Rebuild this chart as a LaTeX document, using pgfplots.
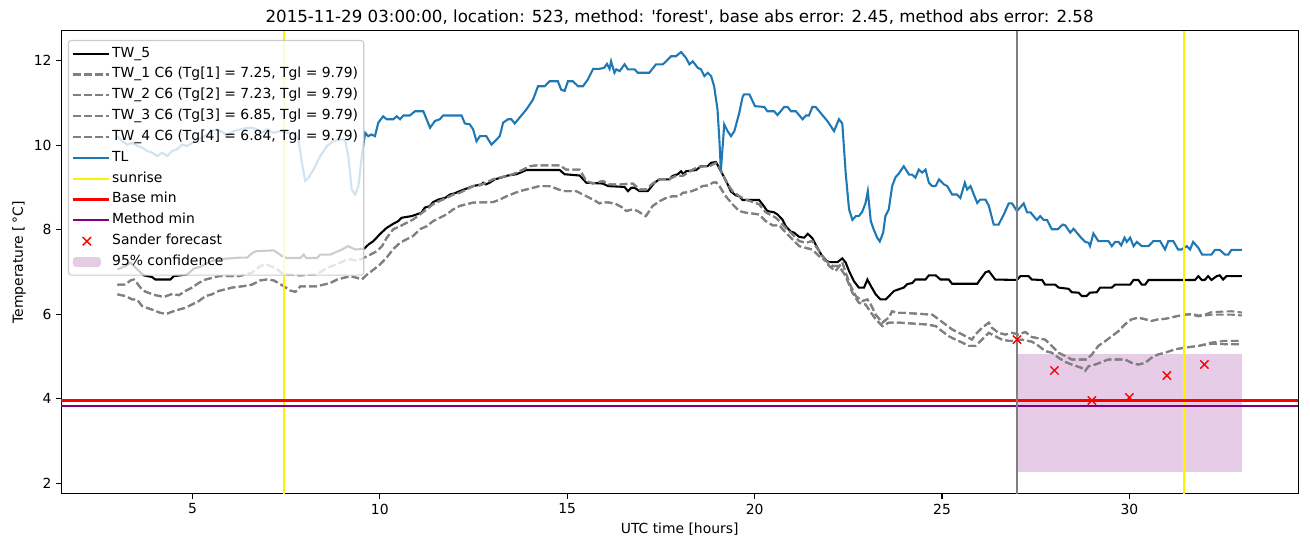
\documentclass[border=0pt]{standalone}
\usepackage{pgfplots}
\pgfplotsset{compat=1.18}
\usepackage{fontspec}
\setmainfont{DejaVu Sans}
\definecolor{tlblue}{HTML}{1F77B4}
\definecolor{mplgray}{HTML}{808080}
\definecolor{mplpurple}{HTML}{800080}
\definecolor{legendedge}{HTML}{CCCCCC}
\pgfplotsset{
  confleg/.style={legend image code/.code={\fill[mplpurple, fill opacity=0.2] (0pt,-3.5pt) rectangle (20pt,3.5pt); \path (0pt,0pt) -- (26pt,0pt);}},
  markleg/.style={legend image code/.code={\path (0pt,0pt) -- (26pt,0pt); \draw[red, line width=1pt] (10pt,0pt) +(-3pt,-3pt) -- +(3pt,3pt) +(-3pt,3pt) -- +(3pt,-3pt);}},
}
\begin{document}
\begin{tikzpicture}
\begin{axis}[
  at={(44.1pt,38.2pt)}, anchor=south west,
  scale only axis, width=890.5pt, height=333.4pt,
  xmin=1.5, xmax=34.5, ymin=1.75, ymax=12.70,
  xtick={5,10,15,20,25,30}, ytick={2,4,6,8,10,12},
  tick align=outside, xtick pos=bottom, ytick pos=left,
  major tick length=3.5pt,
  tick style={black, line width=0.8pt},
  axis line style={line width=0.8pt},
  tick label style={font=\fontsize{10}{12}\selectfont},
  /pgf/number format/assume math mode=true,
  label style={font=\fontsize{10}{12}\selectfont},
  title style={font=\fontsize{12}{14}\selectfont, at={(axis description cs:0.5,1)}, anchor=base},
  title={2015-11-29 03:00:00, location: 523, method: \textquotesingle forest\textquotesingle, base abs error: 2.45, method abs error: 2.58},
  xlabel={UTC time [hours]},
  ylabel={Temperature [\,°C]},
  xlabel style={at={(axis description cs:0.5,0)}, anchor=base, yshift=-28.5pt},
  ylabel style={at={(axis description cs:-0.0285,0.5)}, anchor=south, inner sep=0pt},
  legend cell align=left,
  legend style={at={(0,1)}, anchor=north west, xshift=4.8pt, yshift=-6.5pt,
    fill=white, fill opacity=0.8, draw opacity=1, text opacity=1,
    draw=legendedge, line width=0.8pt, rounded corners=2pt,
    font=\fontsize{10}{12}\selectfont, inner xsep=2.5pt, inner ysep=2pt, row sep=0pt,
    nodes={inner sep=1.5pt, text height=8.5pt, text depth=3.5pt}},
  legend image code/.code={\draw[#1] (0pt,0pt) -- (20pt,0pt); \path (0pt,0pt) -- (26pt,0pt);},
  every axis plot/.append style={line width=1.5pt},
]
% confidence (drawn below the lines, legend entry added last)
\addplot[forget plot, draw=none, fill=mplpurple, fill opacity=0.2] coordinates {(27,2.26) (33,2.26) (33,5.06) (27,5.06)} -- cycle;

% TW_5
\addplot[black] coordinates {
(3.00,7.06) (3.22,7.14) (3.35,7.22) (3.53,7.06) (3.70,6.92) (3.92,6.88) (4.01,6.82) (4.41,6.82) (4.50,6.90) (4.86,6.94)
(5.04,7.08) (5.21,7.12) (5.40,7.22) (5.66,7.30) (6.30,7.34) (6.46,7.34) (6.60,7.45) (6.70,7.49) (7.17,7.51) (7.40,7.37)
(7.52,7.33) (7.88,7.33) (7.97,7.41) (8.03,7.33) (8.32,7.33) (8.41,7.41) (8.68,7.41) (8.99,7.53) (9.15,7.61) (9.35,7.53)
(9.58,7.55) (9.70,7.65) (9.83,7.73) (10.01,7.90) (10.18,8.04) (10.36,8.14) (10.49,8.20) (10.58,8.28) (10.71,8.30) (10.85,8.32)
(10.98,8.36) (11.11,8.40) (11.20,8.52) (11.34,8.56) (11.42,8.65) (11.56,8.71) (11.74,8.75) (11.87,8.83) (12.00,8.86) (12.13,8.91)
(12.31,8.97) (12.49,9.03) (12.71,9.07) (12.76,9.11) (12.83,9.07) (12.93,9.11) (13.07,9.19) (13.24,9.23) (13.42,9.28) (13.64,9.31)
(13.73,9.34) (13.91,9.41) (14.80,9.41) (14.93,9.31) (15.33,9.28) (15.51,9.11) (15.95,9.09) (16.09,9.03) (16.53,9.01) (16.62,8.91)
(16.71,8.99) (16.80,8.99) (16.93,8.91) (17.15,8.91) (17.33,9.11) (17.46,9.19) (17.73,9.19) (17.81,9.27) (17.95,9.31) (18.04,9.38)
(18.10,9.31) (18.17,9.38) (18.44,9.41) (18.57,9.50) (18.75,9.50) (18.84,9.58) (18.97,9.60) (19.06,9.45) (19.15,9.30) (19.24,9.15)
(19.37,8.90) (19.50,8.81) (19.59,8.79) (19.68,8.70) (20.12,8.70) (20.21,8.60) (20.34,8.44) (20.52,8.41) (20.61,8.36) (20.74,8.24)
(20.83,8.08) (20.97,7.95) (21.05,7.93) (21.19,7.83) (21.32,7.81) (21.42,7.90) (21.54,7.80) (21.65,7.61) (21.78,7.41) (21.92,7.26)
(22.00,7.23) (22.21,7.23) (22.34,7.32) (22.43,7.22) (22.52,7.02) (22.65,6.78) (22.78,6.63) (22.92,6.63) (23.01,6.82) (23.10,6.67)
(23.23,6.47) (23.36,6.35) (23.50,6.35) (23.63,6.47) (23.72,6.55) (23.85,6.59) (23.98,6.63) (24.07,6.71) (24.21,6.74) (24.29,6.82)
(24.56,6.82) (24.65,6.92) (24.83,6.92) (24.96,6.82) (25.18,6.82) (25.27,6.72) (25.94,6.72) (26.02,6.82) (26.16,6.99) (26.25,7.02)
(26.42,6.82) (27.00,6.81) (27.09,6.90) (27.31,6.90) (27.40,6.82) (27.67,6.81) (27.75,6.70) (28.02,6.70) (28.11,6.63) (28.38,6.60)
(28.46,6.52) (28.64,6.51) (28.73,6.43) (28.86,6.43) (28.95,6.51) (29.13,6.52) (29.22,6.63) (29.53,6.63) (29.62,6.70) (30.02,6.70)
(30.11,6.81) (30.24,6.81) (30.33,6.70) (30.42,6.70) (30.51,6.81) (31.75,6.81) (31.84,6.90) (31.93,6.81) (32.01,6.81) (32.10,6.90)
(32.19,6.81) (32.33,6.90) (32.41,6.92) (32.50,6.82) (32.59,6.90) (33.00,6.90)
};
\addlegendentry{TW\_5}

% TW_1 and TW_2 (upper pair)
\addplot[mplgray, dash pattern=on 5.55pt off 2.4pt] coordinates {
(3.00,6.70) (3.21,6.70) (3.35,6.80) (3.44,6.82) (3.52,6.74) (3.61,6.63) (3.75,6.53) (4.01,6.45) (4.24,6.41) (4.46,6.48)
(4.64,6.45) (4.81,6.55) (4.99,6.63) (5.17,6.74) (5.35,6.82) (5.70,6.90) (6.24,6.90) (6.59,6.98) (6.81,7.14) (6.95,7.18)
(7.08,7.14) (7.26,7.06) (7.44,6.94) (7.88,6.92) (8.32,6.94) (8.59,7.10) (8.86,7.18) (9.04,7.26) (9.21,7.30) (9.39,7.26)
(9.61,7.35) (9.75,7.41) (9.92,7.49) (10.06,7.61) (10.18,7.80) (10.36,8.01) (10.54,8.08) (10.71,8.16) (10.89,8.24) (11.07,8.36)
(11.25,8.48) (11.42,8.60) (11.60,8.68) (11.78,8.75) (11.96,8.83) (12.13,8.87) (12.31,8.95) (12.49,9.03) (12.67,9.05) (12.84,9.11)
(13.02,9.19) (13.20,9.23) (13.38,9.27) (13.55,9.31) (13.73,9.38) (13.91,9.46) (14.00,9.50) (14.18,9.52) (14.80,9.52) (14.97,9.42)
(15.33,9.42) (15.51,9.15) (15.69,9.09) (15.95,9.15) (16.13,9.07) (16.40,9.07) (16.75,9.09) (16.93,8.95) (17.10,8.95) (17.28,9.09)
(17.46,9.19) (17.73,9.20) (17.90,9.27) (18.08,9.27) (18.35,9.42) (18.52,9.49) (18.79,9.50) (18.97,9.58) (19.06,9.48) (19.23,9.15)
(19.41,8.91) (19.59,8.79) (19.77,8.71) (20.12,8.60) (20.30,8.41) (20.57,8.28) (20.83,8.04) (21.01,7.89) (21.19,7.73) (21.36,7.69)
(21.54,7.73) (21.63,7.61) (21.81,7.37) (21.99,7.14) (22.16,7.02) (22.34,7.23) (22.43,6.98) (22.56,6.67) (22.70,6.43) (22.87,6.31)
(23.01,6.35) (23.10,6.23) (23.23,5.99) (23.41,5.80) (23.58,5.92) (23.67,6.07) (23.81,6.03) (24.03,6.03) (24.74,5.99) (24.91,5.88)
(25.09,5.76) (25.27,5.64) (25.45,5.56) (25.63,5.48) (25.80,5.40) (25.89,5.52) (26.07,5.68) (26.25,5.80) (26.33,5.68) (26.51,5.56)
(26.69,5.52) (26.87,5.56) (27.04,5.52) (27.22,5.58) (27.40,5.46) (27.75,5.40) (27.93,5.25) (28.11,5.09) (28.29,5.01) (28.46,4.93)
(28.86,4.93) (29.00,5.05) (29.17,5.25) (29.35,5.36) (29.53,5.48) (29.71,5.60) (29.88,5.76) (30.06,5.88) (30.24,5.92) (30.42,5.88)
(30.59,5.84) (30.77,5.88) (30.95,5.89) (31.30,5.96) (31.48,5.99) (31.66,6.01) (31.84,5.97) (32.01,5.99) (32.19,6.05) (32.72,6.07)
(33.00,6.04)
};
\addlegendentry{TW\_1 C6 (Tg[1] = 7.25, Tgl = 9.79)}
\addplot[mplgray, dash pattern=on 5.55pt off 2.4pt] coordinates {
(3.00,6.70) (3.21,6.70) (3.35,6.80) (3.44,6.82) (3.52,6.74) (3.61,6.63) (3.75,6.53) (4.01,6.45) (4.24,6.41) (4.46,6.48)
(4.64,6.45) (4.81,6.55) (4.99,6.63) (5.17,6.74) (5.35,6.82) (5.70,6.90) (6.24,6.90) (6.59,6.98) (6.81,7.14) (6.95,7.18)
(7.08,7.14) (7.26,7.06) (7.44,6.94) (7.88,6.92) (8.32,6.94) (8.59,7.10) (8.86,7.18) (9.04,7.26) (9.21,7.30) (9.39,7.26)
(9.61,7.35) (9.75,7.41) (9.92,7.49) (10.06,7.61) (10.18,7.80) (10.36,8.01) (10.54,8.08) (10.71,8.16) (10.89,8.24) (11.07,8.36)
(11.25,8.48) (11.42,8.60) (11.60,8.68) (11.78,8.75) (11.96,8.83) (12.13,8.87) (12.31,8.95) (12.49,9.03) (12.67,9.05) (12.84,9.11)
(13.02,9.19) (13.20,9.23) (13.38,9.27) (13.55,9.31) (13.73,9.38) (13.91,9.46) (14.00,9.50) (14.18,9.52) (14.80,9.52) (14.97,9.42)
(15.33,9.42) (15.51,9.15) (15.69,9.09) (15.95,9.15) (16.13,9.07) (16.40,9.07) (16.75,9.09) (16.93,8.95) (17.10,8.95) (17.28,9.09)
(17.46,9.19) (17.73,9.20) (17.90,9.27) (18.08,9.27) (18.35,9.42) (18.52,9.49) (18.79,9.50) (18.97,9.58) (19.06,9.48) (19.23,9.15)
(19.41,8.91) (19.59,8.79) (19.77,8.71) (20.12,8.60) (20.30,8.41) (20.57,8.28) (20.83,8.04) (21.01,7.89) (21.19,7.73) (21.36,7.69)
(21.54,7.73) (21.63,7.61) (21.81,7.37) (21.99,7.14) (22.16,7.02) (22.34,7.23) (22.43,6.98) (22.56,6.67) (22.70,6.43) (22.87,6.31)
(23.01,6.35) (23.10,6.23) (23.23,5.99) (23.41,5.80) (23.58,5.92) (23.67,6.07) (23.81,6.03) (24.03,6.03) (24.74,5.99) (24.91,5.88)
(25.09,5.76) (25.27,5.64) (25.45,5.56) (25.63,5.48) (25.80,5.40) (25.89,5.52) (26.07,5.68) (26.25,5.80) (26.33,5.68) (26.51,5.56)
(26.69,5.52) (26.87,5.56) (27.04,5.52) (27.22,5.58) (27.40,5.46) (27.75,5.40) (27.93,5.25) (28.11,5.09) (28.29,5.01) (28.46,4.93)
(28.86,4.93) (29.00,5.05) (29.17,5.25) (29.35,5.36) (29.53,5.48) (29.71,5.60) (29.88,5.76) (30.06,5.88) (30.24,5.92) (30.42,5.88)
(30.59,5.84) (30.77,5.88) (30.95,5.89) (31.30,5.96) (31.48,5.99) (31.66,5.99) (31.84,5.95) (32.01,5.97) (32.19,5.99) (32.72,5.99)
(33.00,5.97)
};
\addlegendentry{TW\_2 C6 (Tg[2] = 7.23, Tgl = 9.79)}

% TW_3 and TW_4 (lower pair)
\addplot[mplgray, dash pattern=on 5.55pt off 2.4pt] coordinates {
(3.00,6.47) (3.21,6.43) (3.39,6.35) (3.52,6.35) (3.66,6.19) (3.92,6.11) (4.15,6.03) (4.32,6.01) (4.46,6.06) (4.64,6.11)
(4.81,6.15) (4.99,6.23) (5.17,6.31) (5.35,6.43) (5.52,6.47) (5.70,6.55) (6.06,6.63) (6.41,6.67) (6.59,6.70) (6.81,6.80)
(6.99,6.82) (7.17,6.80) (7.44,6.66) (7.61,6.56) (7.75,6.53) (7.88,6.66) (8.32,6.66) (8.68,6.74) (8.86,6.82) (9.21,6.90)
(9.39,6.86) (9.52,6.82) (9.66,6.94) (9.84,7.06) (10.01,7.18) (10.19,7.35) (10.37,7.55) (10.54,7.69) (10.71,7.77) (10.89,7.85)
(11.07,8.01) (11.25,8.08) (11.42,8.20) (11.60,8.28) (11.78,8.36) (11.96,8.48) (12.13,8.56) (12.31,8.60) (12.49,8.64) (13.02,8.65)
(13.20,8.71) (13.38,8.79) (13.73,8.91) (13.91,8.95) (14.09,8.99) (14.26,9.03) (14.53,9.03) (14.71,8.97) (14.89,8.91) (15.24,8.91)
(15.42,8.83) (15.60,8.75) (15.77,8.67) (15.86,8.62) (15.95,8.65) (16.13,8.64) (16.31,8.60) (16.48,8.52) (16.57,8.44) (16.75,8.48)
(16.88,8.44) (17.02,8.36) (17.10,8.32) (17.19,8.44) (17.28,8.56) (17.46,8.67) (17.64,8.75) (17.81,8.79) (17.99,8.79) (18.08,8.87)
(18.26,8.89) (18.44,8.95) (18.61,9.03) (18.79,9.05) (18.88,9.11) (18.97,9.12) (19.06,9.03) (19.23,8.79) (19.41,8.60) (19.59,8.44)
(19.77,8.40) (20.12,8.36) (20.30,8.20) (20.48,8.10) (20.66,8.10) (20.83,7.93) (21.01,7.77) (21.19,7.61) (21.36,7.57) (21.54,7.53)
(21.72,7.37) (21.90,7.26) (22.08,7.14) (22.25,7.14) (22.43,6.90) (22.61,6.51) (22.78,6.27) (22.96,6.23) (23.05,6.11) (23.23,5.88)
(23.41,5.72) (23.58,5.80) (23.85,5.80) (24.56,5.76) (24.83,5.72) (25.00,5.60) (25.18,5.48) (25.36,5.40) (25.54,5.33) (25.71,5.25)
(25.89,5.25) (26.07,5.40) (26.25,5.56) (26.42,5.48) (26.60,5.40) (26.78,5.37) (26.96,5.37) (27.13,5.40) (27.40,5.35) (27.58,5.25)
(27.75,5.13) (27.93,5.09) (28.11,4.97) (28.29,4.87) (28.46,4.81) (28.73,4.73) (28.82,4.66) (28.91,4.77) (29.09,4.81) (29.44,4.93)
(29.88,4.93) (30.06,4.85) (30.24,4.81) (30.42,4.85) (30.59,4.97) (30.77,5.05) (30.95,5.09) (31.22,5.17) (31.48,5.21) (31.84,5.25)
(32.19,5.33) (32.55,5.37) (33.00,5.37)
};
\addlegendentry{TW\_3 C6 (Tg[3] = 6.85, Tgl = 9.79)}
\addplot[mplgray, dash pattern=on 5.55pt off 2.4pt] coordinates {
(3.00,6.47) (3.21,6.43) (3.39,6.35) (3.52,6.35) (3.66,6.19) (3.92,6.11) (4.15,6.03) (4.32,6.01) (4.46,6.06) (4.64,6.11)
(4.81,6.15) (4.99,6.23) (5.17,6.31) (5.35,6.43) (5.52,6.47) (5.70,6.55) (6.06,6.63) (6.41,6.67) (6.59,6.70) (6.81,6.80)
(6.99,6.82) (7.17,6.80) (7.44,6.66) (7.61,6.56) (7.75,6.53) (7.88,6.66) (8.32,6.66) (8.68,6.74) (8.86,6.82) (9.21,6.90)
(9.39,6.86) (9.52,6.82) (9.66,6.94) (9.84,7.06) (10.01,7.18) (10.19,7.35) (10.37,7.55) (10.54,7.69) (10.71,7.77) (10.89,7.85)
(11.07,8.01) (11.25,8.08) (11.42,8.20) (11.60,8.28) (11.78,8.36) (11.96,8.48) (12.13,8.56) (12.31,8.60) (12.49,8.64) (13.02,8.65)
(13.20,8.71) (13.38,8.79) (13.73,8.91) (13.91,8.95) (14.09,8.99) (14.26,9.03) (14.53,9.03) (14.71,8.97) (14.89,8.91) (15.24,8.91)
(15.42,8.83) (15.60,8.75) (15.77,8.67) (15.86,8.62) (15.95,8.65) (16.13,8.64) (16.31,8.60) (16.48,8.52) (16.57,8.44) (16.75,8.48)
(16.88,8.44) (17.02,8.36) (17.10,8.32) (17.19,8.44) (17.28,8.56) (17.46,8.67) (17.64,8.75) (17.81,8.79) (17.99,8.79) (18.08,8.87)
(18.26,8.89) (18.44,8.95) (18.61,9.03) (18.79,9.05) (18.88,9.11) (18.97,9.12) (19.06,9.03) (19.23,8.79) (19.41,8.60) (19.59,8.44)
(19.77,8.40) (20.12,8.36) (20.30,8.20) (20.48,8.10) (20.66,8.10) (20.83,7.93) (21.01,7.77) (21.19,7.61) (21.36,7.57) (21.54,7.53)
(21.72,7.37) (21.90,7.26) (22.08,7.14) (22.25,7.14) (22.43,6.90) (22.61,6.51) (22.78,6.27) (22.96,6.23) (23.05,6.11) (23.23,5.88)
(23.41,5.72) (23.58,5.80) (23.85,5.80) (24.56,5.76) (24.83,5.72) (25.00,5.60) (25.18,5.48) (25.36,5.40) (25.54,5.33) (25.71,5.25)
(25.89,5.25) (26.07,5.40) (26.25,5.56) (26.42,5.48) (26.60,5.40) (26.78,5.37) (26.96,5.37) (27.13,5.40) (27.40,5.35) (27.58,5.25)
(27.75,5.13) (27.93,5.09) (28.11,4.97) (28.29,4.87) (28.46,4.81) (28.73,4.73) (28.82,4.66) (28.91,4.77) (29.09,4.81) (29.44,4.93)
(29.88,4.93) (30.06,4.85) (30.24,4.81) (30.42,4.85) (30.59,4.97) (30.77,5.05) (30.95,5.09) (31.22,5.17) (31.48,5.21) (31.84,5.25)
(32.19,5.30) (32.55,5.29) (33.00,5.29)
};
\addlegendentry{TW\_4 C6 (Tg[4] = 6.84, Tgl = 9.79)}

% TL
\addplot[tlblue] coordinates {
(3.00,10.21) (3.13,10.09) (3.26,10.01) (3.39,10.05) (3.53,9.98) (3.66,9.94) (3.79,9.86) (3.93,9.82) (4.06,9.74) (4.19,9.82)
(4.33,9.74) (4.46,9.86) (4.59,9.90) (4.72,10.01) (4.86,9.98) (4.99,10.05) (5.12,10.13) (5.26,10.17) (5.39,10.25) (5.52,10.33)
(5.66,10.37) (5.83,10.29) (5.92,10.21) (6.10,10.33) (6.28,10.37) (6.46,10.41) (6.59,10.41) (6.72,10.37) (6.86,10.29) (6.99,10.37)
(7.17,10.29) (7.34,10.33) (7.52,10.29) (7.70,10.29) (7.83,10.13) (7.92,9.58) (8.01,9.15) (8.10,9.23) (8.23,9.42) (8.41,9.74)
(8.59,9.98) (8.76,10.09) (8.94,10.13) (9.07,10.13) (9.16,9.74) (9.25,8.95) (9.34,8.83) (9.43,9.03) (9.52,9.74) (9.61,10.29)
(9.69,10.21) (9.78,10.25) (9.87,10.21) (9.96,10.53) (10.09,10.68) (10.18,10.61) (10.36,10.61) (10.45,10.68) (10.54,10.61) (10.63,10.70)
(10.80,10.70) (10.94,10.80) (11.16,10.80) (11.34,10.41) (11.47,10.57) (11.60,10.61) (11.69,10.70) (12.18,10.70) (12.27,10.51) (12.40,10.49)
(12.49,10.37) (12.58,10.09) (12.67,10.21) (12.84,10.21) (12.98,10.01) (13.07,10.09) (13.20,10.21) (13.29,10.53) (13.42,10.61) (13.51,10.61)
(13.60,10.51) (13.73,10.65) (13.91,10.84) (14.09,11.08) (14.22,11.39) (14.40,11.39) (14.53,11.51) (14.75,11.51) (14.84,11.31) (14.93,11.28)
(15.02,11.51) (15.15,11.51) (15.29,11.39) (15.42,11.39) (15.55,11.55) (15.69,11.80) (15.86,11.80) (15.99,11.83) (16.06,11.92) (16.13,11.80)
(16.17,11.98) (16.26,11.71) (16.31,11.79) (16.40,11.75) (16.53,11.91) (16.62,11.79) (16.80,11.79) (16.88,11.71) (17.19,11.71) (17.37,11.91)
(17.55,11.91) (17.64,11.98) (17.77,12.10) (17.90,12.10) (18.04,12.20) (18.17,12.06) (18.26,11.91) (18.35,11.98) (18.48,11.83) (18.57,11.79)
(18.66,11.63) (18.75,11.71) (18.84,11.63) (18.92,11.39) (19.01,10.84) (19.06,10.13) (19.10,9.40) (19.19,10.49) (19.28,10.33) (19.37,10.21)
(19.46,10.33) (19.59,10.76) (19.68,11.14) (19.72,11.20) (19.86,11.20) (20.01,10.92) (20.26,10.90) (20.34,10.80) (20.52,10.80) (20.61,10.71)
(20.79,10.90) (20.88,10.90) (20.97,10.80) (21.10,10.80) (21.28,10.61) (21.37,10.70) (21.45,10.70) (21.54,10.90) (21.63,10.90) (21.76,10.76)
(21.94,10.57) (22.12,10.33) (22.25,10.61) (22.34,10.51) (22.43,9.34) (22.52,8.48) (22.61,8.23) (22.70,8.32) (22.78,8.32) (22.87,8.42)
(22.96,8.63) (23.02,8.91) (23.10,8.20) (23.18,8.00) (23.27,7.81) (23.34,7.72) (23.43,7.93) (23.49,8.32) (23.58,8.48) (23.67,9.03)
(23.76,9.24) (23.85,9.33) (23.98,9.50) (24.12,9.30) (24.20,9.30) (24.29,9.23) (24.38,9.42) (24.47,9.35) (24.56,9.42) (24.65,9.11)
(24.74,9.03) (24.83,9.03) (24.92,9.19) (25.05,9.07) (25.14,9.03) (25.27,8.83) (25.40,8.83) (25.49,8.75) (25.61,9.11) (25.67,8.95)
(25.76,9.03) (25.85,8.83) (25.94,8.63) (26.02,8.71) (26.16,8.71) (26.25,8.56) (26.38,8.12) (26.51,8.12) (26.65,8.36) (26.78,8.62)
(26.87,8.62) (27.00,8.44) (27.18,8.62) (27.27,8.41) (27.36,8.41) (27.53,8.23) (27.62,8.32) (27.71,8.23) (27.80,8.23) (27.93,8.01)
(28.09,8.01) (28.22,8.12) (28.29,8.10) (28.42,7.93) (28.51,8.02) (28.69,7.83) (28.82,7.71) (28.91,7.69) (28.95,7.61) (29.04,7.91)
(29.17,7.73) (29.44,7.73) (29.53,7.61) (29.62,7.71) (29.71,7.71) (29.78,7.63) (29.87,7.81) (29.93,7.71) (30.02,7.81) (30.11,7.61)
(30.20,7.71) (30.33,7.61) (30.51,7.61) (30.64,7.73) (30.82,7.73) (30.95,7.53) (31.04,7.73) (31.17,7.73) (31.30,7.53) (31.39,7.53)
(31.53,7.61) (31.62,7.53) (31.70,7.71) (31.84,7.57) (31.94,7.41) (32.19,7.41) (32.28,7.52) (32.41,7.52) (32.55,7.41) (32.64,7.41)
(32.72,7.52) (33.00,7.52)
};
\addlegendentry{TL}

% sunrise
\addplot[yellow] coordinates {(7.45,1.75) (7.45,12.70)};
\addlegendentry{sunrise}
\addplot[yellow, forget plot] coordinates {(31.45,1.75) (31.45,12.70)};

% base and method min
\addplot[red] coordinates {(1.5,3.96) (34.5,3.96)};
\addlegendentry{Base min}
\addplot[mplpurple] coordinates {(1.5,3.84) (34.5,3.84)};
\addlegendentry{Method min}

% forecast time
\addplot[mplgray, forget plot] coordinates {(27,1.75) (27,12.70)};

% Sander forecast
\addplot[forget plot, only marks, red, mark=x, mark size=4.2pt, mark options={line width=1pt}] coordinates {
(27,5.40) (28,4.67) (29,3.96) (30,4.03) (31,4.55) (32,4.81)
};
\addplot[draw=none, fill=none, markleg] coordinates {(30,3.5)};
\addlegendentry{Sander forecast}

% legend entry of the confidence band (the band itself is drawn first)
\addplot[draw=none, fill=none, confleg] coordinates {(30,3.5)};
\addlegendentry{95\% confidence}
\end{axis}
\pgfresetboundingbox
\path[use as bounding box] (0pt,0pt) rectangle (943.2pt,393.84pt);
\end{tikzpicture}
\end{document}
